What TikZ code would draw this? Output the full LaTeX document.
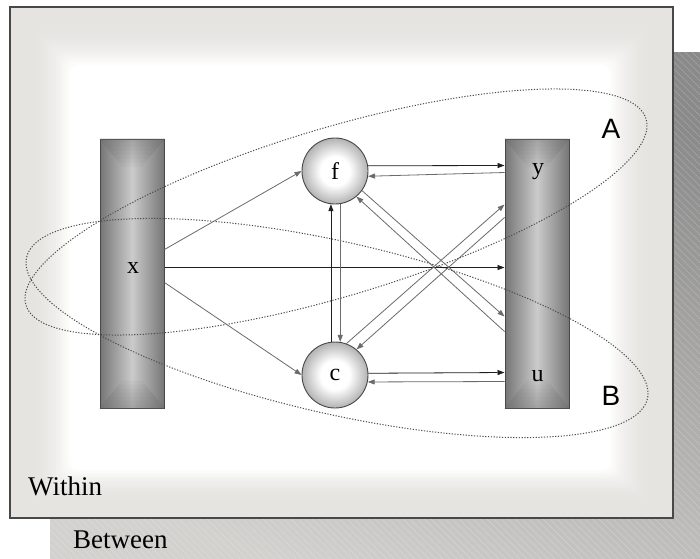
\documentclass[tikz,border=0pt]{standalone}
\usepackage{fontspec}
\setmainfont{Liberation Serif}
\newfontfamily\sansAB{Liberation Sans}
\usetikzlibrary{arrows.meta,calc}
\definecolor{shadowtop}{HTML}{8A8A8A}
\definecolor{shadowbot}{HTML}{D3D1CE}
\definecolor{frameedge}{HTML}{E5E4E1}
\definecolor{barside}{HTML}{767676}
\definecolor{barmid}{HTML}{CBCBCB}
\definecolor{outline}{HTML}{484848}
\pgfdeclareradialshading{varball}{\pgfpoint{0bp}{0bp}}{color(0bp)=(white); color(11bp)=(white); color(25bp)=(black!30); color(50bp)=(black!30)}
\begin{document}
\begin{tikzpicture}[x=1pt,y=-1pt,
  bar/.style={rectangle, draw=outline, line width=1pt, minimum width=64pt, minimum height=269pt, inner sep=0pt, left color=barside, right color=barside, middle color=barmid},
  var/.style={circle, draw=outline, line width=0.9pt, minimum size=66pt, inner sep=0pt, shading=varball},
  lab/.style={font=\fontsize{24}{24}\selectfont, text=black, inner sep=0pt},
  grp/.style={font=\sansAB\fontsize{28}{28}\selectfont, inner sep=0pt},
  lvl/.style={font=\fontsize{27}{27}\selectfont, anchor=base west, inner sep=0pt},
  dk/.style={draw=black!88, line width=0.8pt, -{Triangle[length=7pt,width=5pt]}},
  lt/.style={draw=black!58, line width=0.8pt, -{Triangle[length=7pt,width=5pt]}},
  ring/.style={draw=black!70, line width=1pt, dash pattern=on 1.2pt off 1.6pt},
  bevel/.style={fill=black!55, fill opacity=0.07, draw=none}
]
\useasboundingbox (0,0) rectangle (700,558);

% shadow ("Between")
\shade[top color=shadowtop, bottom color=shadowbot, shading angle=-20] (50,52) rectangle (700,558);
\begin{scope}
  \clip (50,52) rectangle (700,558);
  \foreach \k in {-470,-463,...,700}
    \draw[white, opacity=0.22, line width=0.5pt] (\k,52) -- ++(520,520);
\end{scope}

% "Within" frame
\fill[frameedge] (10,7) rectangle (673,518);
\foreach \i in {0,...,24} {
  \pgfmathsetmacro\t{\i/24}
  \pgfmathsetmacro\s{0.3+0.7*\t}
  \pgfmathsetmacro\m{100*\t*\t}
  \fill[white!\m!frameedge, rounded corners={10*\t}]
    ({10+60*\s},{7+58*\s}) rectangle ({673-63*\s},{518-48*\s});
}
\draw[outline, line width=1.3pt] (10,7) rectangle (673,518);

% bars
\node[bar] (xbar) at (132,273.5) {};
\node[bar] (yubar) at (537,273.5) {};
\foreach \b in {xbar,yubar} {
  \foreach \h in {4,8,...,28} {
    \fill[bevel] (\b.north west) -- (\b.north east) -- ($(\b.north east)+(-0.8*\h,\h)$) -- ($(\b.north west)+(0.8*\h,\h)$) -- cycle;
    \fill[bevel] (\b.south west) -- (\b.south east) -- ($(\b.south east)+(-0.8*\h,-\h)$) -- ($(\b.south west)+(0.8*\h,-\h)$) -- cycle;
  }
}
\node[lab] (xl) at (133,267.5) {x};
\node[lab] (yl) at (538,172) {y};
\node[lab] (ul) at (537.5,376.5) {u};

% latent variables
\node[var, lab] (f) at (335,171) {f};
\node[var, lab] (c) at (335,375) {c};

% dotted groups
\draw[ring] plot[domain=0:358, samples=180, variable=\s]
  ({336+311*cos(\s)}, {212-86.5*cos(\s)+87.5*sin(\s)}) -- cycle;
\draw[ring] plot[domain=0:358, samples=180, variable=\s]
  ({337+311*cos(\s)}, {328+65.3*cos(\s)+88*sin(\s)}) -- cycle;

% paths
\draw[lt] ($(xbar.north east)+(0,111)$) -- (f.west);
\draw[lt] ($(xbar.north east)+(0,144)$) -- (c.west);
\draw[dk] (xbar.east |- xl) -- (yubar.west |- xl);
\draw[dk] (f.9) -- ($(yubar.north west)+(0,27)$);
\draw[lt] ($(yubar.north west)+(0,34)$) -- (f.-9);
\draw[dk] (c.3) -- ($(yubar.north west)+(0,234)$);
\draw[lt] ($(yubar.north west)+(0,243)$) -- (c.-12);
\draw[dk] (c.97) -- (f.-97);
\draw[lt] (f.-81) -- (c.81);
\draw[lt] (f.-36) -- ($(yubar.north west)+(0,178)$);
\draw[lt] ($(yubar.north west)+(0,193)$) -- (f.-50);
\draw[lt] (c.70) -- ($(yubar.north west)+(0,66)$);
\draw[lt] ($(yubar.north west)+(0,79)$) -- (c.50);

% texts
\node[grp] (A) at (611,129) {A};
\node[grp] (B) at (611,396) {B};
\node[lvl] (within) at (28,495) {Within};
\node[lvl] (between) at (73,548) {Between};
\end{tikzpicture}
\end{document}
